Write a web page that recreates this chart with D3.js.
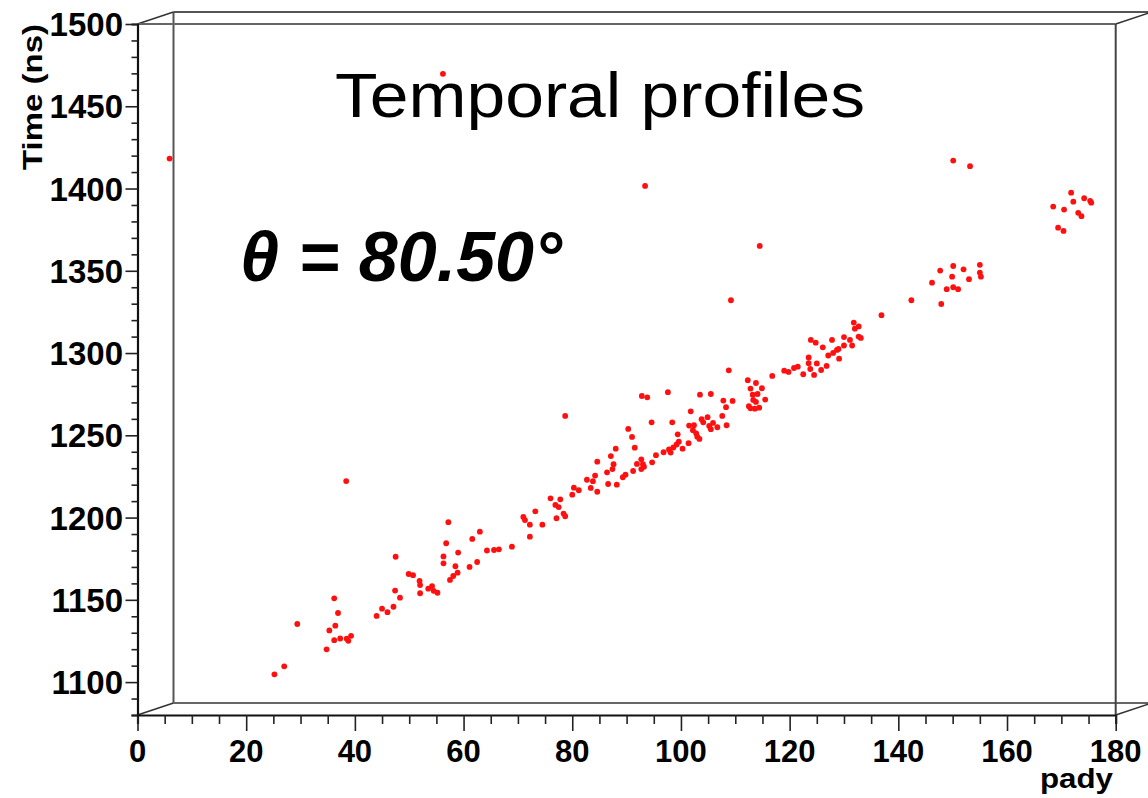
<!DOCTYPE html>
<html>
<head>
<meta charset="utf-8">
<script src="https://cdn.jsdelivr.net/npm/d3@7"></script>
<style>
  html, body { margin: 0; padding: 0; background: #fff; }
  svg { display: block; font-family: "Liberation Sans", Arial, Helvetica, sans-serif; }
</style>
</head>
<body>
<div id="chart"></div>
<script>
// pad index (x) and arrival time in ns (y) for each hit
const pady = [
  25.2, 27.0, 29.4, 34.8, 36.2, 36.9, 36.4, 35.3, 36.2, 37.3, 38.5, 38.8, 39.3, 38.4,
  44.0, 45.0, 46.0, 47.1, 47.4, 48.3, 47.5, 49.9, 50.7, 51.9, 52.0, 52.0, 53.5, 54.2,
  54.5, 55.2, 57.2, 56.8, 56.3, 56.3, 59.0, 58.5, 58.9, 58.1, 57.5, 61.6, 63.0, 61.1,
  62.5, 64.3, 65.6, 66.5, 68.9, 71.0, 71.3, 72.2, 72.2, 73.2, 74.5, 76.0, 77.8, 76.9,
  77.5, 78.4, 78.7, 77.1, 78.7, 80.0, 80.3, 81.2, 82.7, 83.4, 83.8, 84.2, 84.6, 84.6,
  86.4, 87.1, 87.6, 87.4, 88.0, 86.6, 88.2, 89.3, 89.8, 90.3, 91.0, 91.5, 91.2, 91.9,
  92.7, 93.2, 92.7, 94.6, 94.7, 95.4, 96.8, 97.8, 98.4, 98.1, 98.6, 99.4, 99.2, 93.0,
  92.8, 93.8, 97.6, 99.6, 100.3, 101.4, 101.8, 101.5, 102.4, 102.2, 102.8, 103.0, 103.4,
  103.5, 103.8, 104.1, 104.9, 105.2, 105.5, 105.9, 106.7, 105.5, 107.6, 107.8, 108.3,
  108.4, 109.5, 108.8, 109.2, 114.5, 112.3, 112.8, 113.8, 113.2, 114.1, 114.9, 115.5,
  113.3, 113.8, 112.5, 112.8, 113.6, 114.4, 116.8, 119.0, 119.8, 120.8, 121.5, 122.5,
  123.5, 123.5, 123.8, 125.0, 124.5, 125.8, 126.8, 123.9, 124.8, 126.1, 127.8, 127.1,
  128.0, 128.7, 129.0, 129.1, 130.0, 131.1, 131.5, 131.8, 132.0, 132.7, 132.7, 133.1,
  130.0, 136.9, 142.4, 147.9, 146.2, 147.7, 150.1, 152.0, 155.0, 155.0, 155.2, 149.9,
  153.0, 148.9, 150.1, 151.0, 150.1, 153.2, 171.8, 174.2, 172.2, 168.5, 170.5, 175.3,
  175.5, 173.1, 173.7, 169.4, 170.4, 93.4, 56.2, 5.9
];
const timeNs = [
  1104.7, 1109.6, 1135.3, 1119.9, 1150.9, 1142.0, 1134.3, 1131.4, 1125.5, 1126.5, 1126.4, 1125.1, 1128.1, 1222.2,
  1140.2, 1144.6, 1142.5, 1145.8, 1155.6, 1151.3, 1176.2, 1165.7, 1165.0, 1161.5, 1159.0, 1154.0, 1156.8, 1158.3,
  1155.5, 1154.3, 1197.2, 1184.4, 1176.4, 1172.2, 1178.7, 1170.4, 1166.5, 1164.5, 1162.1, 1187.0, 1191.4, 1170.0,
  1173.0, 1180.0, 1180.3, 1180.7, 1182.3, 1200.4, 1198.5, 1195.7, 1188.4, 1203.8, 1195.7, 1211.7, 1211.1, 1207.7,
  1206.3, 1202.4, 1200.8, 1199.6, 1261.8, 1213.9, 1218.2, 1216.6, 1223.0, 1218.0, 1222.1, 1225.5, 1234.0, 1215.7,
  1227.5, 1237.4, 1232.4, 1229.5, 1241.9, 1220.4, 1220.0, 1224.5, 1226.1, 1253.9, 1249.0, 1242.5, 1228.3, 1232.6,
  1235.4, 1230.9, 1229.5, 1257.9, 1233.6, 1237.9, 1239.7, 1241.4, 1257.9, 1239.5, 1242.6, 1250.6, 1244.4, 1232.4,
  1273.9, 1273.1, 1276.2, 1246.1, 1241.9, 1245.2, 1264.6, 1255.9, 1256.1, 1253.1, 1251.2, 1249.2, 1247.8,
  1274.7, 1259.8, 1257.9, 1261.0, 1255.7, 1253.7, 1257.5, 1254.9, 1275.1, 1261.8, 1271.1, 1267.1,
  1256.1, 1270.9, 1289.5, 1332.1, 1365.1, 1283.5, 1278.4, 1281.8, 1274.7, 1275.1, 1278.6, 1271.7,
  1271.5, 1270.3, 1267.7, 1266.4, 1266.2, 1266.8, 1286.1, 1289.3, 1288.5, 1290.9, 1291.7, 1287.1,
  1297.3, 1293.8, 1290.3, 1293.7, 1286.7, 1289.7, 1292.2, 1308.0, 1306.3, 1303.5, 1308.0, 1298.5,
  1300.1, 1301.9, 1302.5, 1296.6, 1309.7, 1308.0, 1304.6, 1318.5, 1314.8, 1316.2, 1310.0, 1309.2,
  1304.6, 1323.0, 1332.1, 1329.8, 1342.8, 1350.1, 1352.9, 1350.9, 1353.6, 1348.9, 1346.4, 1346.4,
  1344.9, 1338.8, 1340.0, 1338.8, 1417.0, 1413.6, 1397.5, 1394.1, 1392.0, 1389.0, 1387.2, 1392.5,
  1391.4, 1385.2, 1383.2, 1376.2, 1374.2, 1401.6, 1469.7, 1418.2
];
const points = pady.map((p, i) => ({ x: p, t: timeNs[i] }));

const xTicks = [0, 20, 40, 60, 80, 100, 120, 140, 160, 180];
const yTicks = [1100, 1150, 1200, 1250, 1300, 1350, 1400, 1450, 1500];
const xLabel = "pady";
const yLabel = "Time (ns)";
const titleText = "Temporal profiles";
const angleText = "θ = 80.50°";

const width = 1148, height = 798;
const margin = { top: 24, left: 137.5, bottom: 83, right: 32.3 };
const depth = { dx: 36, dy: -12 };

const svg = d3.select("#chart").append("svg")
  .attr("width", width)
  .attr("height", height);

const x = d3.scaleLinear().domain([0, 180]).range([margin.left, width - margin.right]);
const y = d3.scaleLinear().domain([1080, 1500]).range([height - margin.bottom, margin.top]);

const x0 = x.range()[0], x1 = x.range()[1];
const y0 = y.range()[0], y1 = y.range()[1];

// pseudo 3D frame (back plane + connecting edges)
const frame = svg.append("g").attr("fill", "none");
const line = (ax, ay, bx, by, col, w) => frame.append("line")
  .attr("x1", ax).attr("y1", ay).attr("x2", bx).attr("y2", by)
  .attr("stroke", col).attr("stroke-width", w);

const bx0 = x0 + depth.dx, by0 = y0 + depth.dy, by1 = y1 + depth.dy;
line(bx0, by1, bx0, by0, "#555", 2);
line(bx0, by0, width + 10, by0, "#666", 2);
line(bx0, by1, width + 10, by1, "#555", 2);
line(x0, y1, bx0, by1, "#333", 1.6);
line(x0, y0, bx0, by0, "#333", 1.6);
line(x1, y0, x1 + depth.dx, by0, "#333", 1.6);
line(x1, y1, x1 + depth.dx, by1, "#333", 1.6);
line(x0, y1, x1, y1, "#666", 2);
line(x1, y1, x1, y0, "#444", 2);

// axes
const xAxis = svg.append("g").attr("transform", `translate(0,${y0})`)
  .call(d3.axisBottom(x).tickValues(d3.range(0, 181, 5)).tickSize(9).tickFormat(""));
xAxis.selectAll(".tick line")
  .attr("y2", d => d % 20 === 0 ? 16 : 9);
const yAxis = svg.append("g").attr("transform", `translate(${x0},0)`)
  .call(d3.axisLeft(y).tickValues(d3.range(1080, 1501, 10)).tickSize(6).tickFormat(""));
yAxis.selectAll(".tick line")
  .attr("x2", d => d % 50 === 0 ? -12 : -6);
[xAxis, yAxis].forEach(a => {
  a.select(".domain").attr("stroke", "#111").attr("stroke-width", 2.2);
  a.selectAll(".tick line").attr("stroke", "#222").attr("stroke-width", 1.6);
});

svg.append("g").selectAll("text").data(xTicks).join("text")
  .attr("x", d => x(d))
  .attr("y", 762)
  .attr("text-anchor", "middle")
  .attr("font-size", 31)
  .attr("font-weight", "bold")
  .text(d => d);

svg.append("g").selectAll("text").data(yTicks).join("text")
  .attr("x", 123)
  .attr("y", d => y(d) + 12)
  .attr("text-anchor", "end")
  .attr("font-size", 33)
  .attr("font-weight", "bold")
  .text(d => d);

svg.append("text")
  .attr("x", 1113).attr("y", 788)
  .attr("text-anchor", "end")
  .attr("font-size", 27)
  .attr("font-weight", "bold")
  .attr("textLength", 73)
  .attr("lengthAdjust", "spacingAndGlyphs")
  .text(xLabel);

svg.append("text")
  .attr("transform", "translate(42,24) rotate(-90)")
  .attr("text-anchor", "end")
  .attr("font-size", 28)
  .attr("font-weight", "bold")
  .attr("textLength", 146)
  .attr("lengthAdjust", "spacingAndGlyphs")
  .text(yLabel);

// hits
svg.append("g").selectAll("circle").data(points).join("circle")
  .attr("cx", d => x(d.x))
  .attr("cy", d => y(d.t))
  .attr("r", 2.9)
  .attr("fill", "#ff1010");

svg.append("text")
  .attr("x", 335).attr("y", 117)
  .attr("font-size", 63)
  .attr("textLength", 530)
  .attr("lengthAdjust", "spacingAndGlyphs")
  .text(titleText);

svg.append("text")
  .attr("x", 240).attr("y", 281)
  .attr("font-size", 70)
  .attr("font-weight", "bold")
  .attr("font-style", "italic")
  .attr("textLength", 322)
  .attr("lengthAdjust", "spacingAndGlyphs")
  .text(angleText);
</script>
</body>
</html>
